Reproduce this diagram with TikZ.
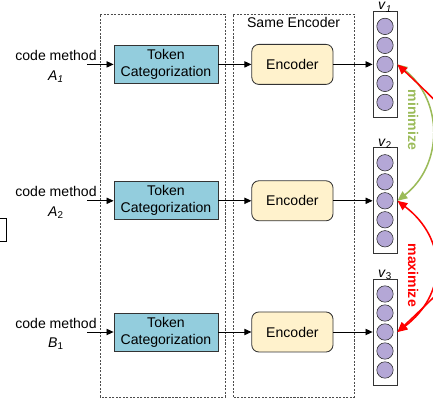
\documentclass[tikz,border=0pt]{standalone}
\usepackage{fontspec}
\setmainfont{Liberation Sans}
\usetikzlibrary{positioning,arrows.meta}

\definecolor{tokblue}{RGB}{147,205,221}
\definecolor{encyellow}{RGB}{255,242,204}
\definecolor{dotpurple}{RGB}{180,167,214}
\definecolor{simgreen}{RGB}{155,187,89}

\begin{document}
\begin{tikzpicture}[font=\fontsize{10}{12}\selectfont,
    tokbox/.style={rectangle, draw=black!80, semithick, fill=tokblue, minimum width=2.6cm, minimum height=0.95cm, align=center, inner sep=1pt},
    encbox/.style={rectangle, rounded corners=5pt, draw=black!80, semithick, fill=encyellow, minimum width=2.03cm, minimum height=1.0cm},
    vecbox/.style={rectangle, draw=black!80, semithick, fill=white, minimum width=0.6cm, minimum height=2.65cm},
    dot/.style={circle, draw=black!85, fill=dotpurple, minimum size=0.41cm, inner sep=0pt},
    group/.style={draw=black!70, dash pattern=on 1.5pt off 1pt},
    arrow/.style={-{Triangle[length=5pt,width=4.5pt]}, semithick},
    simarrow/.style={{Triangle[length=7pt,width=6pt]}-{Triangle[length=7pt,width=6pt]}, line width=1.1pt}
]
\useasboundingbox (0,0) rectangle (10.825,10.05);

% Dashed groups
\draw[group] (2.5,0.125) rectangle (5.625,9.7);
\draw[group] (5.825,0.125) rectangle (8.85,9.7);
\node (same) at (7.34, 9.48) {Same Encoder};

% Cut-off box on the left
\node[draw, semithick, minimum width=0.5cm, minimum height=0.575cm] (frag) at (-0.1, 4.31) {};

% Inputs
\node[align=center] (in1) at (1.4, 8.39) {code method\\[2pt]\textit{A}\textsubscript{\textit{1}}};
\node[align=center] (in2) at (1.4, 4.98) {code method\\[2pt]\textit{A}\textsubscript{2}};
\node[align=center] (in3) at (1.4, 1.70) {code method\\[2pt]\textit{B}\textsubscript{1}};
\coordinate (s1) at (2.175, 8.44);
\coordinate (s2) at (2.175, 5.03);
\coordinate (s3) at (2.175, 1.75);

% Token categorization
\node[tokbox] (tok1) at (4.15, 8.44) {Token\\Categorization};
\node[tokbox] (tok2) at (4.15, 5.03) {Token\\Categorization};
\node[tokbox] (tok3) at (4.15, 1.75) {Token\\Categorization};

% Encoders
\node[encbox] (enc1) at (7.31, 8.44) {Encoder};
\node[encbox] (enc2) at (7.31, 5.03) {Encoder};
\node[encbox] (enc3) at (7.31, 1.75) {Encoder};

% Vectors
\node[vecbox] (vec1) at (9.625, 8.44) {};
\node[vecbox] (vec2) at (9.625, 5.03) {};
\node[vecbox] (vec3) at (9.625, 1.75) {};

\node[dot] (v1a) at (9.625, 9.39) {};
\node[dot] (v1b) at (9.625, 8.915) {};
\node[dot] (v1c) at (9.625, 8.44) {};
\node[dot] (v1d) at (9.625, 7.965) {};
\node[dot] (v1e) at (9.625, 7.49) {};

\node[dot] (v2a) at (9.625, 5.98) {};
\node[dot] (v2b) at (9.625, 5.505) {};
\node[dot] (v2c) at (9.625, 5.03) {};
\node[dot] (v2d) at (9.625, 4.555) {};
\node[dot] (v2e) at (9.625, 4.08) {};

\node[dot] (v3a) at (9.625, 2.70) {};
\node[dot] (v3b) at (9.625, 2.225) {};
\node[dot] (v3c) at (9.625, 1.75) {};
\node[dot] (v3d) at (9.625, 1.275) {};
\node[dot] (v3e) at (9.625, 0.80) {};

\node[inner sep=0pt, above=-1pt of vec1] (lv1) {\textit{v}\textsubscript{\textit{1}}};
\node[inner sep=0pt, above=-1pt of vec2] (lv2) {\textit{v}\textsubscript{2}};
\node[inner sep=0pt, above=-1pt of vec3] (lv3) {\textit{v}\textsubscript{3}};

% Arrows
\draw[arrow] (s1) -- (tok1.west);
\draw[arrow] (s2) -- (tok2.west);
\draw[arrow] (s3) -- (tok3.west);

\draw[arrow] (tok1.east) -- (enc1.west);
\draw[arrow] (tok2.east) -- (enc2.west);
\draw[arrow] (tok3.east) -- (enc3.west);

\draw[arrow] (enc1.east) -- (vec1.west);
\draw[arrow] (enc2.east) -- (vec2.west);
\draw[arrow] (enc3.east) -- (vec3.west);

% Similarity arcs
\draw[simarrow, simgreen] (vec1.east) .. controls +(1.15,-0.9) and +(1.15,0.9) .. (vec2.east);
\draw[simarrow, red] (vec2.east) .. controls +(1.25,-0.95) and +(1.25,0.95) .. (vec3.east);
\draw[simarrow, red] (vec3.east) .. controls +(3.2,3.0) and +(3.2,-3.0) .. (vec1.east);

\node[rotate=-90, text=simgreen, font=\fontsize{10}{12}\selectfont\bfseries] (minlab) at (10.33, 7.05) {minimize};
\node[rotate=-90, text=red, font=\fontsize{10}{12}\selectfont\bfseries] (maxlab) at (10.33, 3.17) {maximize};

\end{tikzpicture}
\end{document}
